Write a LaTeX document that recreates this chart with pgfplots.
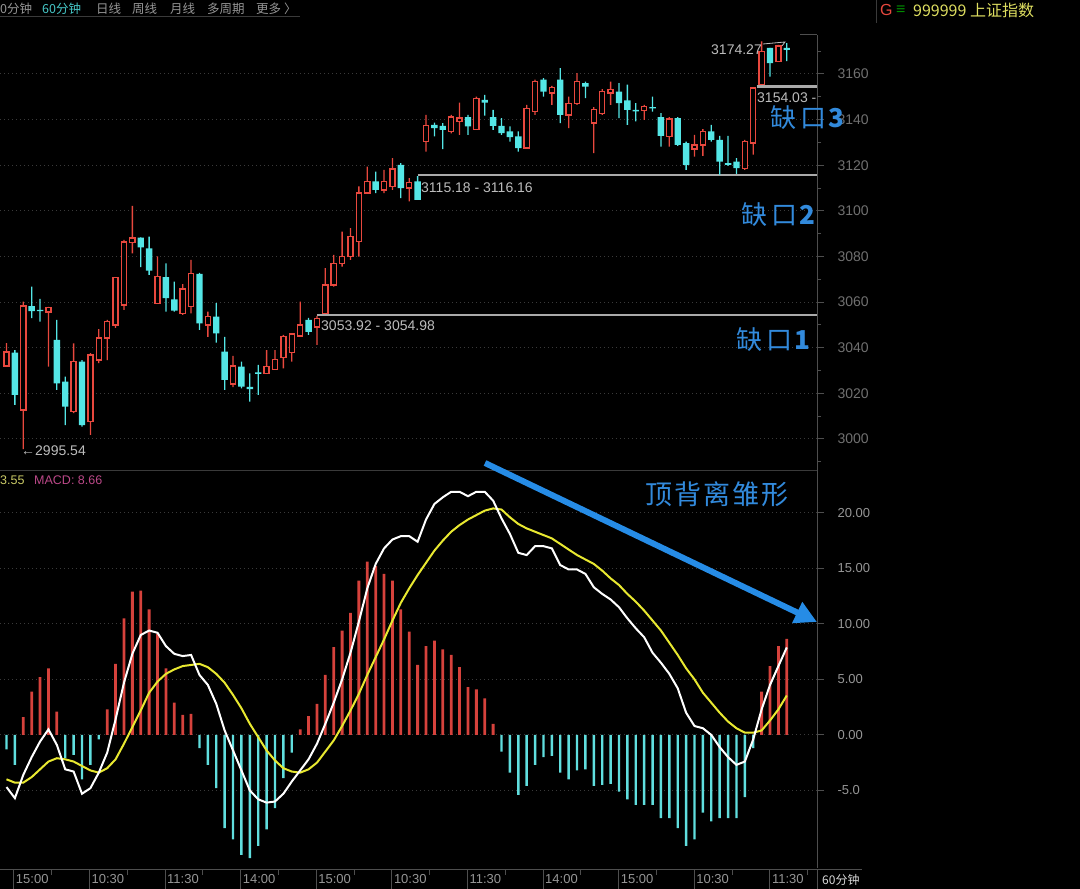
\documentclass[border=0pt]{standalone}
\usepackage{pgfplots}
\pgfplotsset{compat=1.18}
\usepackage{pgfplotstable}
\usepackage{fontspec}
\setmainfont{Liberation Sans}
\newfontfamily\cjk{Noto Sans CJK SC}
\usetikzlibrary{arrows.meta}

\definecolor{kred}{RGB}{232,72,62}
\definecolor{kcyan}{RGB}{84,230,230}
\definecolor{hred}{RGB}{214,66,60}
\definecolor{hcyan}{RGB}{96,222,222}
\definecolor{dea}{RGB}{232,232,48}
\definecolor{axiscol}{RGB}{78,78,78}
\definecolor{gridcol}{RGB}{58,58,58}
\definecolor{ticktext}{RGB}{112,112,112}
\definecolor{gaptext}{RGB}{188,188,188}
\definecolor{gapline}{RGB}{170,170,170}
\definecolor{annblue}{RGB}{50,138,220}
\definecolor{arrowblue}{RGB}{38,140,230}
\definecolor{headgray}{RGB}{150,150,150}
\definecolor{headcyan}{RGB}{70,200,200}
\definecolor{headyellow}{RGB}{222,222,96}

% 60-minute candles, index i = bar number; up (red, hollow) and down (cyan)
\pgfplotstableread{
i o h l c
0 3032.0 3042.0 3031.6 3038.2
2 3012.7 3060.2 2995.54 3058.3
5 3055.6 3057.9 3031.7 3057.5
8 3012.0 3041.9 3011.3 3033.9
10 3007.6 3037.6 3001.8 3036.8
11 3034.6 3048.1 3033.2 3044.2
12 3044.2 3052.2 3034.6 3051.4
13 3050.0 3071.0 3048.7 3070.8
14 3058.8 3087.3 3056.6 3086.4
15 3086.0 3102.2 3081.4 3088.1
18 3059.5 3080.0 3059.5 3071.2
21 3055.1 3067.9 3054.4 3065.7
22 3058.2 3078.5 3055.1 3072.4
24 3050.0 3055.8 3044.8 3053.6
27 3024.1 3036.4 3022.7 3032.0
31 3028.8 3039.0 3028.5 3031.7
32 3030.5 3039.0 3030.3 3034.9
33 3035.8 3045.6 3030.9 3044.8
34 3037.8 3046.3 3033.9 3046.0
35 3045.2 3060.2 3044.8 3050.0
37 3049.1 3053.92 3041.2 3052.9
38 3054.98 3074.9 3054.98 3067.5
39 3067.5 3080.7 3066.8 3077.0
40 3077.0 3090.9 3075.6 3079.9
41 3079.9 3092.4 3078.5 3088.7
42 3086.5 3110.7 3079.9 3107.8
43 3107.8 3119.4 3107.8 3112.9
45 3109.2 3118.0 3107.8 3112.9
46 3110.7 3123.1 3109.2 3118.3
48 3110.0 3114.3 3104.2 3112.3
50 3130.4 3142.1 3126.0 3137.3
53 3134.8 3142.1 3134.0 3141.1
54 3139.2 3147.5 3133.3 3140.7
56 3135.8 3150.1 3135.5 3149.4
62 3127.5 3146.5 3127.5 3145.0
63 3143.5 3157.5 3142.1 3156.7
65 3151.6 3154.8 3146.5 3154.2
67 3142.1 3150.1 3136.3 3147.2
68 3147.2 3160.4 3146.5 3156.7
70 3138.5 3145.5 3125.3 3144.3
71 3142.8 3153.4 3142.1 3152.3
72 3151.6 3156.7 3146.5 3153.1
76 3144.0 3146.5 3139.9 3145.8
79 3132.6 3141.1 3128.2 3140.2
82 3127.1 3133.3 3123.8 3128.9
83 3128.9 3135.8 3124.1 3134.8
88 3118.7 3131.1 3118.0 3130.4
89 3129.7 3154.03 3124.6 3153.8
90 3155.3 3174.27 3155.3 3169.9
92 3165.6 3172.8 3165.6 3172.2
}\upc

\pgfplotstableread{
i o h l c
1 3037.8 3039.0 3014.9 3019.3
3 3058.2 3066.8 3053.0 3056.0
4 3056.6 3061.4 3051.4 3056.0
6 3043.4 3052.2 3021.5 3024.4
7 3025.1 3027.3 3006.1 3014.2
9 3033.9 3034.6 3005.4 3006.1
16 3088.3 3088.4 3075.3 3084.0
17 3083.6 3088.7 3071.9 3073.8
19 3070.9 3077.0 3055.8 3061.7
20 3061.2 3069.0 3055.8 3056.3
23 3072.4 3072.8 3047.8 3050.7
25 3053.6 3059.5 3042.2 3046.3
26 3038.3 3044.8 3021.5 3025.9
28 3031.7 3033.9 3022.2 3022.9
29 3022.8 3028.8 3016.4 3021.9
30 3029.2 3032.5 3019.3 3028.5
36 3052.2 3053.1 3045.6 3046.9
44 3112.9 3117.2 3107.8 3109.2
47 3120.2 3120.9 3105.6 3110.0
49 3112.9 3115.18 3104.8 3104.8
51 3137.7 3138.7 3132.6 3136.3
52 3137.3 3138.5 3127.1 3135.5
55 3141.1 3142.1 3133.3 3137.0
57 3148.7 3150.9 3141.7 3147.5
58 3141.1 3144.3 3135.5 3137.3
59 3137.3 3140.7 3133.3 3134.1
60 3134.8 3137.0 3130.4 3132.3
61 3132.6 3134.8 3126.0 3127.5
64 3157.5 3158.2 3150.1 3152.3
66 3157.5 3162.6 3138.5 3142.1
69 3156.0 3156.7 3149.4 3154.5
73 3152.3 3156.0 3140.7 3147.2
74 3148.4 3155.3 3137.7 3144.3
75 3144.3 3147.2 3139.2 3143.6
77 3145.5 3150.1 3143.5 3144.9
78 3141.1 3142.8 3128.2 3132.9
80 3140.7 3141.1 3128.5 3128.9
81 3129.7 3130.4 3118.0 3120.2
84 3134.8 3137.7 3130.4 3131.1
85 3131.1 3132.9 3115.8 3121.6
86 3120.9 3132.9 3119.7 3120.2
87 3121.6 3123.1 3116.2 3118.7
91 3171.4 3171.4 3158.9 3164.8
93 3171.4 3173.5 3165.6 3170.6
}\downc

% MACD: histogram m, DIF (white) and DEA (yellow)
\pgfplotstableread{
i m dif dea
0 -1.3 -4.7 -4.0
1 -2.7 -5.7 -4.3
2 1.6 -3.6 -4.3
3 3.9 -2.0 -3.8
4 5.2 -0.6 -3.1
5 6.0 0.5 -2.4
6 2.1 -0.9 -2.1
7 -2.1 -3.1 -2.2
8 -1.8 -3.3 -2.4
9 -4.0 -5.3 -2.8
10 -2.7 -4.8 -3.2
11 -0.4 -3.4 -3.4
12 2.3 -1.6 -3.0
13 6.4 1.4 -2.2
14 10.5 4.7 -0.8
15 12.9 7.3 0.7
16 13.0 9.0 2.2
17 11.3 9.4 3.8
18 9.1 9.2 4.8
19 6.0 8.0 5.5
20 2.9 7.3 5.9
21 1.8 7.1 6.2
22 1.9 7.2 6.3
23 -1.2 5.4 6.4
24 -2.7 4.5 6.1
25 -4.8 2.8 5.5
26 -8.4 0.4 4.7
27 -9.4 -1.4 3.6
28 -10.8 -3.2 2.4
29 -11.1 -5.0 1.0
30 -10.0 -5.8 -0.2
31 -8.5 -6.1 -1.4
32 -6.6 -6.0 -2.3
33 -3.9 -5.3 -3.0
34 -1.6 -4.2 -3.3
35 0.5 -3.2 -3.4
36 1.7 -2.2 -3.1
37 2.8 -0.8 -2.5
38 5.4 1.0 -1.5
39 7.9 2.9 -0.5
40 9.4 5.0 0.8
41 11.0 7.4 2.2
42 13.9 10.2 3.7
43 15.6 13.2 5.4
44 15.2 15.4 7.0
45 14.5 16.8 8.6
46 13.9 17.6 10.3
47 11.3 17.9 11.9
48 9.3 17.9 13.2
49 6.3 17.4 14.4
50 8.0 19.4 15.5
51 8.5 20.8 16.6
52 7.7 21.4 17.5
53 7.2 21.9 18.3
54 6.1 21.9 18.9
55 4.3 21.5 19.4
56 4.1 21.9 19.8
57 3.3 21.9 20.2
58 1.0 21.1 20.4
59 -1.5 19.5 20.3
60 -3.4 18.1 19.6
61 -5.4 16.4 19.0
62 -4.6 16.2 18.6
63 -2.7 17.0 18.3
64 -2.0 17.0 18.0
65 -1.9 16.8 17.7
66 -3.4 15.3 17.2
67 -4.0 14.9 16.7
68 -3.2 14.9 16.2
69 -3.1 14.5 15.8
70 -4.6 13.3 15.4
71 -4.5 12.7 14.8
72 -4.4 12.2 14.1
73 -5.1 11.5 13.5
74 -5.8 10.5 12.7
75 -6.3 9.6 12.0
76 -6.3 8.8 11.2
77 -6.3 7.4 10.3
78 -7.5 6.5 9.4
79 -7.5 5.5 8.3
80 -8.4 4.2 7.2
81 -10.0 2.0 6.0
82 -9.4 0.8 5.0
83 -7.0 0.6 3.8
84 -7.8 0.0 2.9
85 -7.5 -1.1 2.0
86 -7.5 -2.0 1.2
87 -7.5 -2.7 0.6
88 -5.6 -2.4 0.2
89 -1.2 -0.4 0.2
90 3.9 2.3 0.4
91 6.2 4.5 1.3
92 8.0 6.2 2.3
93 8.66 7.88 3.55
}\macd

\pgfplotsset{
  panel/.style={
    scale only axis, width=817pt, anchor=south west,
    xmin=-0.775, xmax=96.6,
    axis x line=none, axis y line*=right,
    axis line style={draw=axiscol, line width=1pt},
    tick style={draw=axiscol, line width=1pt},
    tick align=outside, major tick length=7pt, minor tick length=4pt,
    ymajorgrids, major grid style={draw=gridcol, line width=1pt, dash pattern=on 1pt off 3pt},
    yticklabel style={text=ticktext, font=\fontsize{14}{16}\selectfont, xshift=10pt},
  },
  % price pane geometry; prices are plotted as (price - 2980)
  ppanel/.style={panel, height=436pt, ymin=5.96, ymax=197.1},
  % invisible overlay axes for the candles (stacked bars: invisible base + visible part)
  kpanel/.style={ppanel, ytick=\empty, ymajorgrids=false,
    axis line style={draw=none}, tick style={draw=none},
    ybar stacked, bar width=#1},
}

\begin{document}
\begin{tikzpicture}[x=1pt,y=1pt]
\fill[black] (0,0) rectangle (1080,889);

% ---------- MACD pane ----------
\begin{axis}[panel, at={(0,19)}, height=399pt,
  ymin=-11.98, ymax=23.96,
  ytick={-5,0,5,10,15,20}, yticklabels={-5.0,0.00,5.00,10.00,15.00,20.00},
  yticklabel style={font=\fontsize{13}{15}\selectfont, text=headgray}]
  \addplot[ybar, bar width=2.8pt, bar shift=0pt, fill=hred, draw=none,
    restrict y to domain=0:100] table[x=i, y=m] {\macd};
  \addplot[ybar, bar width=2.4pt, bar shift=0pt, fill=hcyan, draw=none,
    restrict y to domain=-100:0] table[x=i, y=m] {\macd};
  \addplot[dea, line width=2pt] table[x=i, y=dea] {\macd};
  \addplot[white, line width=2pt] table[x=i, y=dif] {\macd};
\end{axis}

% ---------- price pane: scale, grid, gaps ----------
\begin{scope}[shift={(0,418)}]
\begin{axis}[ppanel, at={(0,0)},
  ytick={20,40,60,80,100,120,140,160,180},
  yticklabels={3000,3020,3040,3060,3080,3100,3120,3140,3160},
  minor ytick={10,30,50,70,90,110,130,150,170,190}]
  \addplot[gapline, line width=2.2pt] table[x=i, y expr=\thisrow{p}-2980] {
    i p
    37 3054.45
    96.6 3054.45
  };
  \addplot[gapline, line width=1.8pt] table[x=i, y expr=\thisrow{p}-2980] {
    i p
    49 3115.67
    96.6 3115.67
  };
  \addplot[gapline, line width=3pt] table[x=i, y expr=\thisrow{p}-2980] {
    i p
    89.4 3154.66
    96.6 3154.66
  };
\end{axis}

% candle wicks
\begin{axis}[kpanel=1.3pt, at={(0,0)}]
  \addplot[draw=none, fill=none] table[x=i, y expr=\thisrow{l}-2980] {\upc};
  \addplot[draw=none, fill=kred] table[x=i, y expr=\thisrow{h}-\thisrow{l}] {\upc};
\end{axis}
\begin{axis}[kpanel=1.3pt, at={(0,0)}]
  \addplot[draw=none, fill=none] table[x=i, y expr=\thisrow{l}-2980] {\downc};
  \addplot[draw=none, fill=kcyan] table[x=i, y expr=\thisrow{h}-\thisrow{l}] {\downc};
\end{axis}
% candle bodies
\begin{axis}[kpanel=5.1pt, at={(0,0)}]
  \addplot[draw=none, fill=none] table[x=i, y expr=\thisrow{o}-2980] {\upc};
  \addplot[draw=kred, fill=black, line width=1.35pt] table[x=i, y expr={max(\thisrow{c}-\thisrow{o},0.3)}] {\upc};
\end{axis}
\begin{axis}[kpanel=6.4pt, at={(0,0)}]
  \addplot[draw=none, fill=none] table[x=i, y expr=\thisrow{c}-2980] {\downc};
  \addplot[draw=none, fill=kcyan] table[x=i, y expr={max(\thisrow{o}-\thisrow{c},0.5)}] {\downc};
\end{axis}
\end{scope}

% ---------- frame pieces ----------
\draw[gridcol, line width=1pt] (0,418) -- (817,418);
\draw[axiscol, line width=1pt] (0,19) -- (862,19);
\draw[axiscol, line width=1pt] (817,19) -- (817,0);
\draw[axiscol, line width=1pt] (800,854) -- (817,854);
\foreach \k/\lab in {0/15:00,1/10:30,2/11:30,3/14:00,4/15:00,5/10:30,6/11:30,7/14:00,8/15:00,9/10:30,10/11:30}{
  \pgfmathsetmacro\xx{13.8+75.6*\k}
  \draw[axiscol, line width=1pt] (\xx,19) -- (\xx,0);
  \draw[axiscol, line width=1pt] (\xx+37.8,19) -- (\xx+37.8,14);
  \node[anchor=west, inner sep=0pt, text=headgray, font=\fontsize{13}{15}\selectfont] at (\xx+2,9.5) {\lab};
}
\node[anchor=west, inner sep=0pt, text=white!85!black, font=\cjk\fontsize{12}{14}\selectfont] at (822,9.5) {60分钟};

% header
\draw[gridcol, line width=1pt] (0,872) -- (300,872);
\begin{scope}[every node/.style={anchor=west, inner sep=0pt, font=\cjk\fontsize{12.5}{14}\selectfont, text=headgray}]
  \node at (0,880) {0分钟};
  \node[text=headcyan] at (42,880) {60分钟};
  \node at (96,880) {日线};
  \node at (132,880) {周线};
  \node at (170,880) {月线};
  \node at (207,880) {多周期};
  \node at (256,880) {更多 〉};
\end{scope}
\draw[gridcol, line width=1pt] (876,889) -- (876,866);
\node[anchor=west, inner sep=0pt, text=kred, font=\fontsize{16}{18}\selectfont] at (880,879) {G};
\node[anchor=west, inner sep=0pt, text=green!55!black, font=\fontsize{16}{18}\selectfont] at (896,879) {≡};
\node[anchor=west, inner sep=0pt, text=headyellow, font=\cjk\fontsize{16}{18}\selectfont] at (913,879) {999999 上证指数};
\node[anchor=west, inner sep=0pt, text=headyellow!80!gray, font=\fontsize{12.5}{14}\selectfont] at (0,409) {3.55};
\node[anchor=west, inner sep=0pt, text=magenta!70!black!90!white, font=\fontsize{12.5}{14}\selectfont] at (34,409) {MACD: 8.66};

% price labels
\begin{scope}[every node/.style={anchor=west, inner sep=0pt, text=gaptext, font=\fontsize{14}{16}\selectfont}]
  \node at (321,563) {3053.92 - 3054.98};
  \node at (421,701.5) {3115.18 - 3116.16};
  \node at (757,791) {3154.03 -};
  \node at (711,839) {3174.27};
  \node at (21,438) {←2995.54};
\end{scope}
\draw[gaptext, line width=0.8pt] (763,845) -- (785,847) -- (782,843);

% annotations
\begin{scope}[every node/.style={anchor=west, inner sep=0pt, text=annblue, font=\cjk\fontsize{26}{28}\selectfont}]
  \node at (736,549) {缺\hspace{4pt}口\hspace{2pt}\bfseries 1};
  \node at (741,674) {缺\hspace{4pt}口\hspace{2pt}\bfseries 2};
  \node at (770,771) {缺\hspace{4pt}口\hspace{2pt}\bfseries 3};
\end{scope}
\node[inner sep=0pt, text=annblue, font=\cjk\fontsize{27}{29}\selectfont] at (716.7,395) {顶\hspace{2pt}背\hspace{2pt}离\hspace{2pt}雏\hspace{2pt}形};
\draw[arrowblue, line width=6pt, -{Triangle[length=22pt, width=22pt]}] (485,426) -- (817,267);

\pgfresetboundingbox
\useasboundingbox (0,0) rectangle (1080,889);
\end{tikzpicture}
\end{document}
